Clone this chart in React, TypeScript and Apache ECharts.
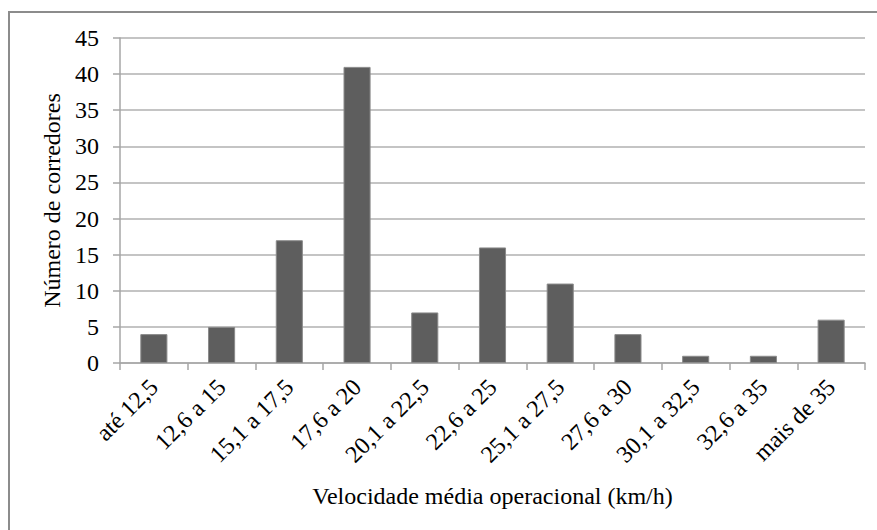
import React, { useEffect, useRef } from "react";
import * as echarts from "echarts";

const categories = [
  "até 12,5",
  "12,6 a 15",
  "15,1 a 17,5",
  "17,6 a 20",
  "20,1 a 22,5",
  "22,6 a 25",
  "25,1 a 27,5",
  "27,6 a 30",
  "30,1 a 32,5",
  "32,6 a 35",
  "mais de 35",
];
const counts = [4, 5, 17, 41, 7, 16, 11, 4, 1, 1, 6];
const xAxisTitle = "Velocidade média operacional (km/h)";
const yAxisTitle = "Número de corredores";

const FONT = "Liberation Serif";

export default function App() {
  const ref = useRef<HTMLDivElement>(null);
  useEffect(() => {
    if (!ref.current) return;
    const chart = echarts.init(ref.current, undefined, { renderer: "svg" });
    chart.setOption({
      animation: false,
      backgroundColor: "#ffffff",
      textStyle: { fontFamily: FONT, color: "#000" },
      graphic: [
        {
          type: "rect",
          shape: { x: 9, y: 12, width: 900, height: 600 },
          style: { fill: "none", stroke: "#8c8c8c", lineWidth: 2 },
          silent: true,
        },
      ],
      grid: { left: 120, right: 12, top: 38, bottom: 167, containLabel: false },
      xAxis: {
        type: "category",
        data: categories,
        name: xAxisTitle,
        nameLocation: "middle",
        nameGap: 121,
        nameTextStyle: { fontFamily: FONT, fontSize: 24, color: "#000" },
        axisLine: { lineStyle: { color: "#a6a6a6", width: 1.5 } },
        axisTick: { show: true, length: 7, alignWithLabel: false, lineStyle: { color: "#a6a6a6", width: 1.5 } },
        axisLabel: {
          rotate: 45,
          interval: 0,
          margin: 20,
          fontFamily: FONT,
          fontSize: 24,
          color: "#000",
        },
      },
      yAxis: {
        type: "value",
        min: 0,
        max: 45,
        interval: 5,
        name: yAxisTitle,
        nameLocation: "middle",
        nameGap: 54,
        nameTextStyle: { fontFamily: FONT, fontSize: 24, color: "#000" },
        axisLine: { show: true, lineStyle: { color: "#a6a6a6", width: 1.5 } },
        axisTick: { show: true, length: 7, lineStyle: { color: "#a6a6a6", width: 1.5 } },
        axisLabel: { margin: 21, fontFamily: FONT, fontSize: 24, color: "#000" },
        splitLine: { show: true, lineStyle: { color: "#b0b0b0", width: 1.5 } },
      },
      series: [
        {
          type: "bar",
          data: counts,
          barWidth: "40%",
          itemStyle: { color: "#5e5e5e", borderColor: "#8a8a8a", borderWidth: 1 },
        },
      ],
    });
    return () => chart.dispose();
  }, []);
  return (
    <div
      ref={ref}
      style={{ position: "fixed", left: 0, top: 0, width: 877, height: 530 }}
    />
  );
}
